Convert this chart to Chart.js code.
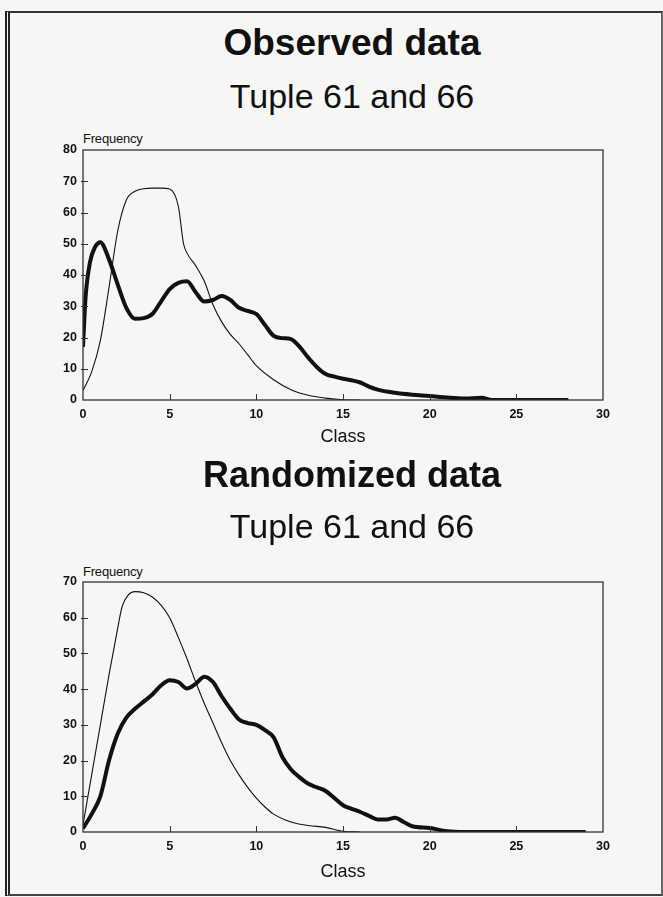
<!DOCTYPE html>
<html>
<head>
<meta charset="utf-8">
<script src="https://cdn.jsdelivr.net/npm/chart.js@4/dist/chart.umd.min.js"></script>
<style>
  html, body { margin:0; padding:0; }
  body { width:663px; height:897px; background:#f6f6f4; position:relative; overflow:hidden;
         font-family:"Liberation Sans", Arial, Helvetica, sans-serif; color:#111; }
  .frame { position:absolute; left:5px; top:11px; right:0; bottom:1px; box-sizing:border-box;
           border-top:2px solid #333; border-right:2px solid #666; border-bottom:2px solid #444;
           border-left:5px double #222; }
  .txt { position:absolute; left:0; width:704px; text-align:center; line-height:1; white-space:nowrap; }
  .big { font-weight:bold; }
  .freq { position:absolute; left:83px; font-size:13px; line-height:1; letter-spacing:-0.2px; }
  .box { position:absolute; left:0; width:663px; height:340px; }
</style>
</head>
<body>
<div class="frame"></div>

<div class="txt big" style="top:23.7px;font-size:37px">Observed data</div>
<div class="txt" style="top:79px;font-size:34px">Tuple 61 and 66</div>
<div class="freq" style="top:131.5px">Frequency</div>
<div class="box" style="top:120px"><canvas id="observed"></canvas></div>

<div class="txt big" style="top:456.5px;font-size:36px">Randomized data</div>
<div class="txt" style="top:509px;font-size:34px">Tuple 61 and 66</div>
<div class="freq" style="top:564.5px">Frequency</div>
<div class="box" style="top:550px"><canvas id="randomized"></canvas></div>

<script>
// observed data: thick curve
const obsThickX = [0, 0.15, 0.4, 0.7, 1, 1.5, 2, 2.5, 3, 3.5, 4, 4.5, 5, 5.5, 6, 6.5, 7, 7.5, 8, 8.5, 9, 9.5, 10, 10.5, 11, 11.5, 12, 12.5, 13, 13.5, 14, 14.5, 15, 15.5, 16, 16.5, 17, 18, 19, 20, 21, 22, 23, 23.6, 28];
const obsThickY = [17, 33, 44, 49, 50.5, 45, 37, 29.5, 26, 26.2, 27.5, 31.5, 35.5, 37.5, 38, 34.5, 31.5, 32, 33.3, 32, 29.5, 28.5, 27.5, 24, 20.5, 19.8, 19.5, 17, 13.5, 10.5, 8.3, 7.5, 6.8, 6.3, 5.6, 4.3, 3.3, 2.3, 1.7, 1.3, 0.8, 0.5, 0.7, 0, 0];
// observed data: thin curve
const obsThinX = [0, 0.5, 1, 1.5, 2, 2.5, 3, 3.5, 4, 4.5, 5, 5.5, 5.8, 6, 6.5, 7, 7.5, 8, 8.5, 9, 9.5, 10, 11, 12, 13, 14, 15, 16];
const obsThinY = [3, 9, 19, 36, 54, 64, 66.8, 67.6, 67.8, 67.8, 67.5, 62, 50, 47, 43, 38, 30.5, 25, 21, 18, 14.5, 11, 6.5, 3.3, 1.5, 0.6, 0.1, 0];

// randomized data: thick curve
const rndThickX = [0, 0.5, 1, 1.5, 2, 2.5, 3, 3.5, 4, 4.5, 5, 5.5, 6, 6.5, 7, 7.5, 8, 8.5, 9, 9.5, 10, 10.5, 11, 11.5, 12, 12.5, 13, 13.5, 14, 14.5, 15, 15.5, 16, 16.5, 17, 17.5, 18, 18.5, 19, 20, 21, 22, 29];
const rndThickY = [1, 5, 10, 20, 27.5, 32, 34.5, 36.5, 38.5, 41, 42.5, 42, 40.2, 41.5, 43.5, 42, 38, 34.5, 31.5, 30.5, 30, 28.5, 26.5, 21, 17.5, 15.3, 13.5, 12.5, 11.5, 9.5, 7.5, 6.5, 5.6, 4.5, 3.5, 3.5, 4, 2.8, 1.6, 1.1, 0.2, 0, 0];
// randomized data: thin curve
const rndThinX = [0, 0.5, 1, 1.5, 2, 2.25, 2.6, 3, 3.5, 4, 4.5, 5, 5.5, 6, 6.5, 7, 7.5, 8, 8.5, 9, 9.5, 10, 10.5, 11, 12, 13, 14, 15, 16];
const rndThinY = [2, 16, 30, 44, 57, 63, 66.3, 67.3, 67, 65.8, 63.5, 60, 54.5, 48.5, 42, 36, 30.5, 25, 20, 16, 12.5, 9.5, 7, 5, 2.8, 1.8, 1.3, 0.2, 0];

const xTicks = [0, 5, 10, 15, 20, 25, 30];

const INK = '#111';
const tickFont = { family:'"Liberation Sans", Arial, sans-serif', size:12.5, weight:'bold' };

function pts(xs, ys){ return xs.map((x,i)=>({x, y:ys[i]})); }

// box round the plot area + short inward ticks
const framePlugin = {
  id:'frame',
  afterDraw(chart){
    const {ctx, chartArea:a, scales:{x, y}} = chart;
    ctx.save();
    ctx.strokeStyle = '#333';
    ctx.lineWidth = 1.3;
    ctx.strokeRect(a.left, a.top, a.right - a.left, a.bottom - a.top);
    ctx.lineWidth = 1;
    ctx.beginPath();
    x.ticks.forEach(t=>{
      if(t.value <= x.min || t.value >= x.max) return;
      const px = Math.round(x.getPixelForValue(t.value)) + 0.5;
      ctx.moveTo(px, a.bottom); ctx.lineTo(px, a.bottom - 6);
    });
    y.ticks.forEach(t=>{
      if(t.value <= y.min || t.value >= y.max) return;
      const py = Math.round(y.getPixelForValue(t.value)) + 0.5;
      ctx.moveTo(a.left - 2, py); ctx.lineTo(a.left + 5, py);
    });
    ctx.stroke();
    ctx.restore();
  }
};

function makeChart(id, thickX, thickY, thinX, thinY, yMax, padTop, xAxisH, titlePad){
  return new Chart(document.getElementById(id), {
    type:'line',
    data:{ datasets:[
      { data:pts(thinX, thinY), borderColor:INK, borderWidth:1.1, pointRadius:0, cubicInterpolationMode:'monotone', fill:false },
      { data:pts(thickX, thickY), borderColor:INK, borderWidth:4, pointRadius:0, cubicInterpolationMode:'monotone', fill:false }
    ]},
    options:{
      responsive:true, maintainAspectRatio:false, animation:false,
      layout:{ padding:{ left:38, right:60, top:padTop, bottom:0 } },
      plugins:{ legend:{display:false}, tooltip:{enabled:false} },
      scales:{
        x:{
          type:'linear', min:0, max:30,
          afterBuildTicks: s => { s.ticks = xTicks.map(v=>({value:v})); },
          afterFit: s => { s.height = xAxisH; },
          grid:{ display:false, drawTicks:false },
          border:{ display:false },
          ticks:{ color:INK, font:tickFont, padding:7, maxRotation:0 },
          title:{ display:true, text:'Class', color:INK, padding:{top:0, bottom:titlePad},
                  font:{ family:'"Liberation Sans", Arial, sans-serif', size:18, lineHeight:1 } }
        },
        y:{
          min:0, max:yMax,
          afterFit: s => { s.width = 45; },
          grid:{ display:false, drawTicks:false },
          border:{ display:false },
          ticks:{ stepSize:10, color:INK, font:tickFont, padding:6 }
        }
      }
    },
    plugins:[framePlugin]
  });
}

makeChart('observed', obsThickX, obsThickY, obsThinX, obsThinY, 80, 30, 60, 14);
makeChart('randomized', rndThickX, rndThickY, rndThinX, rndThinY, 70, 32, 58, 9);
</script>
</body>
</html>
